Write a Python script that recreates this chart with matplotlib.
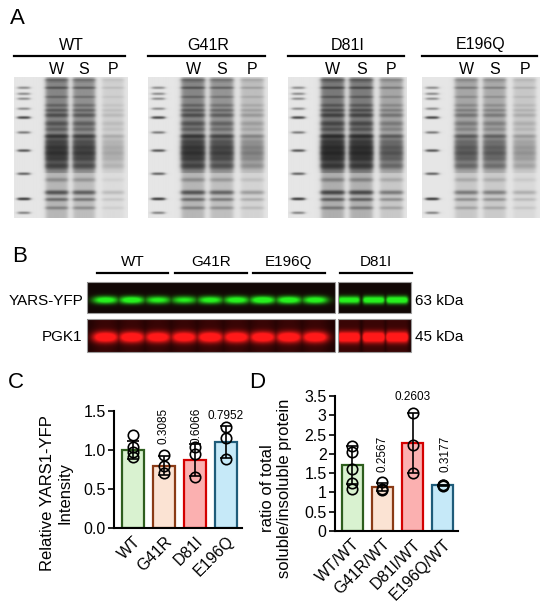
import numpy as np
import matplotlib
matplotlib.use('Agg')
import matplotlib.pyplot as plt
from matplotlib.patches import Rectangle

plt.rcParams['font.family'] = ['Liberation Sans', 'DejaVu Sans']

# ---- panel A : total / soluble / pellet gels ----
gel_names = ['WT', 'G41R', 'D81I', 'E196Q']
gel_lanes = ['W', 'S', 'P']
gel_load = [[1.0, 0.85, 0.18], [1.0, 0.8, 0.35], [1.2, 1.15, 0.6], [0.6, 0.55, 0.25]]
ladder_pos = [0.075, 0.118, 0.153, 0.224, 0.287, 0.393, 0.522, 0.687, 0.866, 0.965]
ladder_int = [0.35, 0.35, 0.35, 0.35, 0.85, 0.45, 0.7, 0.6, 1.0, 0.4]
band_pos = [0.02, 0.075, 0.14, 0.20, 0.235, 0.27, 0.33, 0.37, 0.42, 0.46, 0.50, 0.54, 0.58, 0.63, 0.73, 0.82, 0.87, 0.93]
band_int = [0.5, 0.4, 0.25, 0.25, 0.35, 0.45, 0.4, 0.3, 0.75, 0.55, 0.75, 0.85, 0.65, 0.6, 0.2, 0.6, 0.4, 0.25]
band_sig = [0.008, 0.006, 0.006, 0.008, 0.008, 0.01, 0.012, 0.01, 0.01, 0.016, 0.016, 0.016, 0.016, 0.016, 0.01, 0.01, 0.008, 0.008]

# ---- panel B : western blot ----
blot_groups = ['WT', 'G41R', 'E196Q', 'D81I']
yfp_int = [0.9, 0.95, 0.8, 0.75, 0.85, 0.9, 1.0, 0.95, 0.9]
yfp_int2 = [0.85, 0.9, 0.95]
pgk_int = [1.0, 1.0, 0.95, 0.95, 1.0, 1.0, 1.0, 1.0, 1.0]
pgk_int2 = [1.0, 1.0, 1.0]

# ---- panel C ----
c_labels = ['WT', 'G41R', 'D81I', 'E196Q']
c_means = [1.00, 0.80, 0.87, 1.10]
c_points = [[1.19, 1.04, 0.97, 0.91], [0.94, 0.79, 0.70], [1.04, 0.95, 0.65], [1.29, 1.15, 0.88]]
c_pvals = ['', '0.3085', '0.6066', '0.7952']

# ---- panel D ----
d_labels = ['WT/WT', 'G41R/WT', 'D81I/WT', 'E196Q/WT']
d_means = [1.71, 1.14, 2.29, 1.18]
d_points = [[2.20, 2.06, 1.60, 1.25, 1.10], [1.27, 1.08, 1.06], [3.07, 2.23, 1.51], [1.20, 1.18, 1.16]]
d_pvals = ['', '0.2567', '0.2603', '0.3177']

face = ['#d9f2d0', '#fbe3d3', '#fbb0b0', '#c6e9f8']
edge = ['#2e5e1e', '#8a3b16', '#d40000', '#1f5c7a']


def soft_box(x, c, w, s=0.01):
    return 1.0 / (1.0 + np.exp((np.abs(x - c) - w / 2) / s))


def gel_image(load, nrow=282, ncol=236):
    y = np.linspace(0, 1, nrow)[:, None]
    x = np.linspace(0, 1, ncol)[None, :]
    img = np.zeros((nrow, ncol))
    lad = np.zeros_like(y)
    for p, a in zip(ladder_pos, ladder_int):
        lad = lad + a * np.exp(-0.5 * ((y - p) / 0.006) ** 2)
    img += lad * soft_box(x, 0.085, 0.1)
    prof = np.where((y > 0.03) & (y < 0.68), 0.38, 0.16)
    for p, a, s in zip(band_pos, band_int, band_sig):
        prof = prof + a * np.exp(-0.5 * ((y - p) / s) ** 2)
    for c, l in zip([0.375, 0.615, 0.87], load):
        img += l * prof * soft_box(x, c, 0.19)
    return 0.90 - 0.82 * (1 - np.exp(-1.6 * img))


def blot_image(h, w, centers, width, ints, yc, sig, band, bg, smear):
    yy = (np.arange(h)[:, None] + 0.5) / h
    xx = (np.arange(w)[None, :] + 0.5) / w
    horiz = np.zeros((1, w))
    for c, a in zip(centers, ints):
        horiz = np.maximum(horiz, a * soft_box(xx, c, width, 0.012))
    vert = np.exp(-0.5 * ((yy - yc) / sig) ** 2)
    amt = np.clip(1.4 * vert * horiz + smear * horiz, 0, 1)[..., None]
    bg = np.array(bg)[None, None, :]
    band = np.array(band)[None, None, :]
    return bg + amt * (band - bg)


fig = plt.figure(figsize=(5.5, 6.16), dpi=100)
ax0 = fig.add_axes([0, 0, 1, 1])
ax0.axis('off')

# panel A
ax0.text(10, 19, 'A', fontsize=16, va='center', ha='left')
gel_x = [(14, 128), (148, 268), (288, 407), (422, 540)]
for name, load, (x0, x1) in zip(gel_names, gel_load, gel_x):
    ax0.imshow(gel_image(load), cmap='gray', vmin=0, vmax=1, aspect='auto',
               extent=(x0, x1, 218, 77), interpolation='bilinear')
    ax0.plot([x0, x1 - 3], [56, 56], color='black', lw=1.6)
    ax0.text((x0 + x1) / 2, 45, name, fontsize=11.5, ha='center', va='center')
    for lab, f in zip(gel_lanes, [0.375, 0.615, 0.87]):
        ax0.text(x0 + f * (x1 - x0), 70, lab, fontsize=11.5, ha='center', va='center')

# panel B
ax0.text(12, 257, 'B', fontsize=16, va='center', ha='left')
grp_x = [(97, 168), (175, 247), (253, 325), (340, 412)]
for name, (x0, x1) in zip(blot_groups, grp_x):
    ax0.plot([x0, x1], [273, 273], color='black', lw=1.6)
    ax0.text((x0 + x1) / 2, 262, name, fontsize=11, ha='center', va='center')

c9 = np.linspace(0.075, 0.92, 9)
c3 = [0.15, 0.49, 0.81]
blots = [
    ((87, 335), (282, 313), c9, 0.088, yfp_int, (0.15, 0.95, 0.12), (0.07, 0.03, 0.02), 0.58, 0.085, 0.0),
    ((338, 411), (282, 313), c3, 0.29, yfp_int2, (0.15, 0.95, 0.12), (0.07, 0.03, 0.02), 0.58, 0.085, 0.0),
    ((87, 335), (319, 352), c9, 0.092, pgk_int, (1.0, 0.1, 0.1), (0.12, 0.01, 0.01), 0.55, 0.115, 0.12),
    ((338, 411), (319, 352), c3, 0.3, pgk_int2, (1.0, 0.1, 0.1), (0.12, 0.01, 0.01), 0.55, 0.115, 0.12),
]
for (x0, x1), (y0, y1), cs, wd, ints, band, bg, yc, sg, sm in blots:
    img = blot_image(2 * (y1 - y0), 2 * (x1 - x0), cs, wd, ints, yc, sg, band, bg, sm)
    ax0.imshow(img, aspect='auto', extent=(x0, x1, y1, y0), interpolation='bilinear')
    ax0.add_patch(Rectangle((x0, y0), x1 - x0, y1 - y0, fill=False, edgecolor='#9a9a9a', lw=0.8))

ax0.text(83, 301, 'YARS-YFP', fontsize=11, ha='right', va='center')
ax0.text(82, 337, 'PGK1', fontsize=11, ha='right', va='center')
ax0.text(415, 301, '63 kDa', fontsize=11, ha='left', va='center')
ax0.text(415, 337, '45 kDa', fontsize=11, ha='left', va='center')

# panel letters C, D and y labels
ax0.text(8, 383, 'C', fontsize=16, va='center', ha='left')
ax0.text(249, 383, 'D', fontsize=16, va='center', ha='left')
ax0.text(56, 493, 'Relative YARS1-YFP\nIntensity', fontsize=12, rotation=90,
         ha='center', va='center', multialignment='center')
ax0.text(276, 488, 'ratio of total\nsoluble/insoluble protein', fontsize=12, rotation=90,
         ha='center', va='center', multialignment='center')
ax0.set_xlim(0, 550)
ax0.set_ylim(616, 0)


def bar_panel(ax, labels, means, points, pvals, ymax, yticks, yticklabels):
    x = np.arange(len(labels))
    ax.bar(x, means, width=0.7, color=face, edgecolor=edge, linewidth=1.6, zorder=1)
    for i, pts in enumerate(points):
        sd = np.std(pts, ddof=1)
        ax.errorbar(i, means[i], yerr=sd, color='black', capsize=4, elinewidth=1.2,
                    capthick=1.2, zorder=2)
        ax.plot([i] * len(pts), pts, 'o', mfc='none', mec='black', ms=7.5, mew=1.2, zorder=3)
    ax.set_ylim(0, ymax)
    ax.set_yticks(yticks)
    ax.set_yticklabels(yticklabels, fontsize=11.5)
    ax.set_xticks(x)
    ax.set_xticklabels(labels, fontsize=11.5, rotation=45, ha='right', rotation_mode='anchor')
    ax.tick_params(axis='x', length=0, pad=4)
    ax.tick_params(axis='y', length=4, width=1.2, direction='out', pad=2)
    for s in ['top', 'right']:
        ax.spines[s].set_visible(False)
    for s in ['left', 'bottom']:
        ax.spines[s].set_linewidth(1.5)


axC = fig.add_axes([114 / 550, (616 - 528) / 616, 128 / 550, 117 / 616])
bar_panel(axC, c_labels, c_means, c_points, c_pvals, 1.5,
          [0, 0.5, 1.0, 1.5], ['0.0', '0.5', '1.0', '1.5'])
axC.set_xlim(-0.61, 3.52)
axC.text(1, 1.08, c_pvals[1], rotation=90, fontsize=8.5, ha='center', va='bottom')
axC.text(2.05, 1.08, c_pvals[2], rotation=90, fontsize=8.5, ha='center', va='bottom')
axC.text(3, 1.44, c_pvals[3], fontsize=8.5, ha='center', va='center')

axD = fig.add_axes([335 / 550, (616 - 531) / 616, 123 / 550, 135 / 616])
bar_panel(axD, d_labels, d_means, d_points, d_pvals, 3.5,
          [0, 0.5, 1, 1.5, 2, 2.5, 3, 3.5], ['0', '0.5', '1', '1.5', '2', '2.5', '3', '3.5'])
axD.set_xlim(-0.57, 3.5)
axD.text(1, 1.53, d_pvals[1], rotation=90, fontsize=8.5, ha='center', va='bottom')
axD.text(2, 3.47, d_pvals[2], fontsize=8.5, ha='center', va='center')
axD.text(3.1, 1.53, d_pvals[3], rotation=90, fontsize=8.5, ha='center', va='bottom')

fig.savefig('out.png', dpi=100)
